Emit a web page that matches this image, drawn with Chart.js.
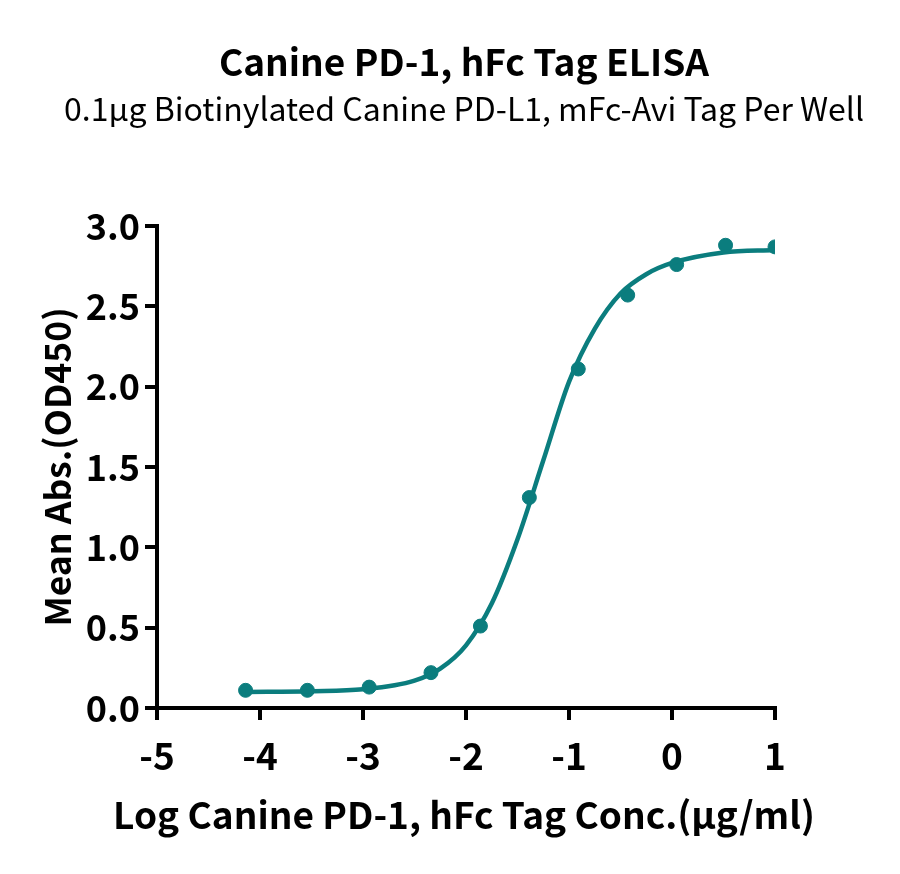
<!DOCTYPE html>
<html>
<head>
<meta charset="utf-8">
<script src="https://cdn.jsdelivr.net/npm/chart.js@4.4.1/dist/chart.umd.min.js"></script>
<style>
  html, body { margin: 0; padding: 0; background: #fff; }
  #wrap { width: 900px; height: 874px; }
</style>
</head>
<body>
<div id="wrap"><canvas id="elisa-chart" width="900" height="874"></canvas></div>
<script>
// Measured points (log conc vs mean OD450)
const logConc = [-4.14, -3.54, -2.94, -2.34, -1.86, -1.385, -0.91, -0.43, 0.045, 0.52, 1.0];
const meanAbs = [0.11, 0.11, 0.13, 0.22, 0.51, 1.31, 2.11, 2.57, 2.76, 2.88, 2.87];

// Fitted curve
const curveX = [-4.14, -3.5, -3.0, -2.5, -2.25, -2.0, -1.75, -1.5, -1.25, -1.0, -0.75, -0.5, -0.25, 0, 0.5, 1.0];
const curveY = [0.10, 0.104, 0.116, 0.17, 0.245, 0.39, 0.65, 1.05, 1.54, 2.03, 2.36, 2.58, 2.70, 2.77, 2.835, 2.85];

// Axis ticks
const xTicks = [-5, -4, -3, -2, -1, 0, 1];
const yTicks = [0, 0.5, 1.0, 1.5, 2.0, 2.5, 3.0];

const xTitle = 'Log Canine PD-1, hFc Tag Conc.(μg/ml)';

const teal = '#0b7d7e';
const font = '"Noto Sans CJK SC", "Noto Sans", sans-serif';

// x-axis title is wider than the plot, so draw it here instead of the
// scale title (which gets squeezed to the chart area width)
const xTitlePlugin = {
    id: 'xTitle',
    afterDraw: function(chart) {
        const c = chart.ctx;
        const area = chart.chartArea;
        c.save();
        c.font = 'bold 37px ' + font;
        c.fillStyle = '#000';
        c.textAlign = 'center';
        c.textBaseline = 'middle';
        c.fillText(xTitle, (area.left + area.right) / 2 - 2, area.bottom + 107);
        c.restore();
    }
};

const ctx = document.getElementById('elisa-chart').getContext('2d');
new Chart(ctx, {
    type: 'scatter',
    data: {
        datasets: [{
            label: 'fit',
            data: curveX.map((x, i) => ({ x: x, y: curveY[i] })),
            showLine: true,
            borderColor: teal,
            borderWidth: 4.5,
            pointRadius: 0,
            cubicInterpolationMode: 'monotone',
            fill: false
        }, {
            label: 'points',
            data: logConc.map((x, i) => ({ x: x, y: meanAbs[i] })),
            showLine: false,
            backgroundColor: teal,
            borderColor: teal,
            pointRadius: 7,
            pointHoverRadius: 7
        }]
    },
    options: {
        responsive: false,
        animation: false,
        events: [],
        layout: { padding: { left: 28, right: 0, top: 0, bottom: 0 } },
        plugins: {
            legend: { display: false },
            tooltip: { enabled: false },
            title: {
                display: true,
                text: 'Canine PD-1, hFc Tag ELISA',
                color: '#000',
                font: { family: font, size: 37, weight: 'bold', lineHeight: 1.2 },
                padding: { top: 40, bottom: 0 }
            },
            subtitle: {
                display: true,
                text: '0.1μg Biotinylated Canine PD-L1, mFc-Avi Tag Per Well',
                color: '#000',
                font: { family: font, size: 32, weight: 'normal', lineHeight: 1.2 },
                padding: { top: 5.4, bottom: 97.8 }
            }
        },
        scales: {
            x: {
                type: 'linear',
                min: -5,
                max: 1,
                afterFit: function(scale) { scale.height = 166; },
                afterBuildTicks: function(scale) { scale.ticks = xTicks.map(v => ({ value: v })); },
                border: { display: true, color: '#000', width: 4 },
                grid: { drawOnChartArea: false, drawTicks: true, tickLength: 12, color: '#000', lineWidth: 4 },
                ticks: {
                    color: '#000',
                    padding: 14,
                    font: { family: font, size: 37, weight: 'bold' },
                    callback: v => String(v)
                },
                title: { display: false }
            },
            y: {
                type: 'linear',
                min: 0,
                max: 3,
                afterFit: function(scale) { scale.width = 129; },
                afterBuildTicks: function(scale) { scale.ticks = yTicks.map(v => ({ value: v })); },
                border: { display: true, color: '#000', width: 4 },
                grid: { drawOnChartArea: false, drawTicks: true, tickLength: 12, color: '#000', lineWidth: 4 },
                ticks: {
                    color: '#000',
                    padding: 5,
                    font: { family: font, size: 36, weight: 'bold' },
                    callback: v => v.toFixed(1)
                },
                title: {
                    display: true,
                    text: 'Mean Abs.(OD450)',
                    color: '#000',
                    font: { family: font, size: 35.5, weight: 'bold', lineHeight: 1.2 },
                    padding: { top: 8.7, bottom: 0 }
                }
            },
            // empty right-hand space so the titles centre like the original
            yRight: {
                type: 'linear',
                position: 'right',
                min: 0,
                max: 3,
                afterFit: function(scale) { scale.width = 125; },
                border: { display: false },
                grid: { display: false },
                ticks: { display: false }
            }
        }
    },
    plugins: [xTitlePlugin]
});
</script>
</body>
</html>
